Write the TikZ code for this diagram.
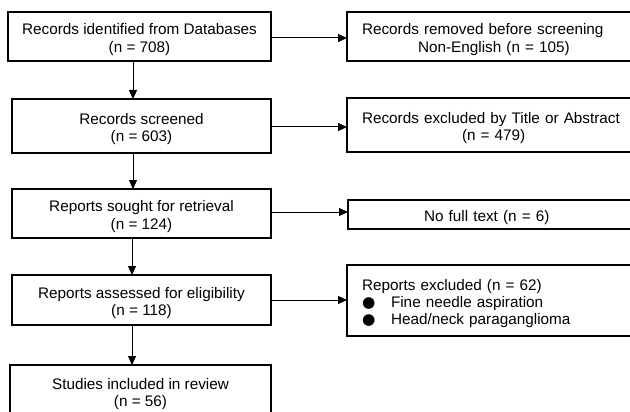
\documentclass[tikz,border=0pt]{standalone}
\usepackage{fontspec}
\setmainfont{Liberation Sans}
\newfontfamily\symfont{DejaVu Sans}
\usetikzlibrary{arrows.meta}
\newcommand{\bul}{\makebox[29pt][l]{\symfont ●}}
\newcommand{\topstrut}{\rule{0pt}{17pt}}
\begin{document}
\begin{tikzpicture}[x=1pt,y=-1pt,
  box/.style={draw, line width=1.5pt, inner sep=0pt, outer sep=0pt,
    anchor=north west, font=\fontsize{15.3}{17.4}\selectfont},
  lbox/.style={box, align=center},
  rbox/.style={box, align=left, text width=270pt, inner xsep=15pt},
  arr/.style={line width=1pt, -{Triangle[length=9pt,width=8pt]}}]
\useasboundingbox (0,0) rectangle (630,412);
\clip (0,0) rectangle (630,412);

% main column
\node[lbox, minimum width=263pt, minimum height=49pt] (L1) at (8,12)
  {\topstrut Records identified from Databases\\(n = 708)};
\node[lbox, minimum width=259pt, minimum height=54pt] (L2) at (12,99)
  {\topstrut Records screened\\(n = 603)};
\node[lbox, minimum width=259pt, minimum height=49pt] (L3) at (12,189)
  {\topstrut Reports sought for retrieval\\(n = 124)};
\node[lbox, minimum width=259pt, minimum height=50pt] (L4) at (12,275)
  {\topstrut Reports assessed for eligibility\\(n = 118)};
\node[lbox, minimum width=261pt, minimum height=52pt] (L5) at (10,365)
  {\topstrut Studies included in review\\(n = 56)};

% exclusion column
\node[rbox, minimum width=300pt, minimum height=49pt] (R1) at (347,12)
  {\topstrut Records removed before screening\\\hspace*{56pt}Non-English (n = 105)};
\node[rbox, minimum width=300pt, minimum height=54pt] (R2) at (347,98)
  {\topstrut Records excluded by Title or Abstract\\\hspace*{100pt}(n = 479)};
\node[rbox, minimum width=300pt, minimum height=29pt] (R3) at (348,200)
  {\topstrut\hspace*{61pt}No full text (n = 6)};
\node[rbox, minimum width=300pt, minimum height=71pt] (R4) at (347,265)
  {\topstrut Reports excluded (n = 62)\\\bul Fine needle aspiration\\\bul Head/neck paraganglioma};

% connector guides
\coordinate (va) at (133,0);
\coordinate (vb) at (132,0);
\coordinate (h1) at (0,38);
\coordinate (h2) at (0,127);
\coordinate (h3) at (0,212);
\coordinate (h4) at (0,300);

\draw[arr] (L1.south -| va) -- (L2.north -| va);
\draw[arr] (L2.south -| va) -- (L3.north -| va);
\draw[arr] (L3.south -| vb) -- (L4.north -| vb);
\draw[arr] (L4.south -| vb) -- (L5.north -| vb);

\draw[arr] (L1.east |- h1) -- (R1.west |- h1);
\draw[arr] (L2.east |- h2) -- (R2.west |- h2);
\draw[arr] (L3.east |- h3) -- (R3.west |- h3);
\draw[arr] (L4.east |- h4) -- (R4.west |- h4);
\end{tikzpicture}
\end{document}
